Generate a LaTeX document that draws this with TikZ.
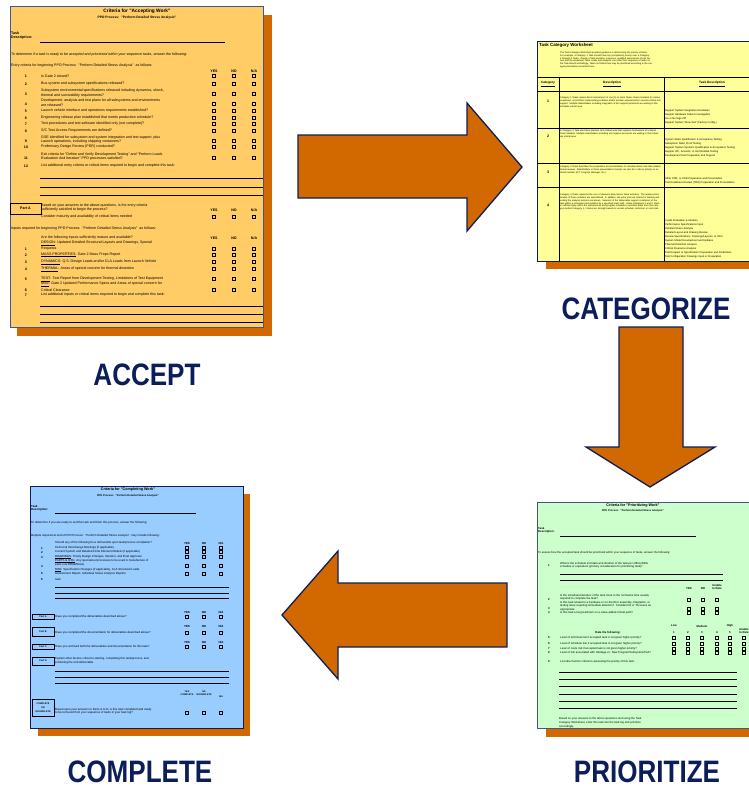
\documentclass[tikz,border=0pt]{standalone}
\usepackage{fontspec}
\setmainfont{Liberation Sans}
\usepackage{graphicx}
\usepackage{tikz}

\definecolor{navy}{RGB}{12,30,90}
\definecolor{rust}{RGB}{210,105,0}
\definecolor{pageline}{RGB}{70,85,135}
\definecolor{acceptfill}{RGB}{255,204,102}
\definecolor{catfill}{RGB}{255,255,153}
\definecolor{priofill}{RGB}{204,255,204}
\definecolor{compfill}{RGB}{153,204,255}

\begin{document}
\begin{tikzpicture}[
  x=1pt, y=-1pt,
  page/.style={draw=pageline, line width=0.9pt},
  bigarrow/.style={fill=rust, draw=navy, line width=1.3pt},
  caption/.style={text=navy, anchor=base, inner sep=0pt, font=\fontsize{31}{31}\selectfont\bfseries},
  tx/.style={anchor=west, inner sep=0pt, align=left},
  num/.style={inner sep=0pt, align=center, execute at begin node=\bfseries},
  chk/.style={draw, line width=0.6pt, minimum size=3pt, inner sep=0pt},
  rule/.style={line width=0.8pt},
  partbox/.style={draw, line width=0.7pt, inner sep=0pt, align=center, execute at begin node=\bfseries}
]
\useasboundingbox (0,0) rectangle (749,788);
\clip (0,0) rectangle (749,788);
\fill[white] (0,0) rectangle (749,788);

% accepting work sheet
\begin{scope}[font=\fontsize{3.6}{4.8}\selectfont]
\fill[rust] (17,15) rectangle (272,336);
\draw[page, fill=acceptfill] (10,6) rectangle (263,327);
\node[inner sep=0pt, font=\fontsize{4.8}{5}\selectfont\bfseries] (acctitle) at (137,11) {Criteria for "Accepting Work"};
\node[inner sep=0pt, font=\fontsize{3.3}{4}\selectfont\bfseries] (accsub) at (137,18) {PPD Process:~~"Perform Detailed Stress Analysis"};
\node[tx, execute at begin node=\bfseries] (acctask) at (11,35.5) {Task\\Description:};
\draw[rule] (40,42) -- (225,42);
\node[tx, execute at begin node=\itshape] (accintro) at (11,55) {To determine if a task is ready to be accepted and prioritized within your sequence tasks, answer the following:};
\node[tx] (accentry) at (11,66) {Entry criteria for beginning PPD Process:~~"Perform Detailed Stress Analysis"~~as follows:};
\foreach \y in {71,210,238}
  \foreach \x/\t in {214/YES,234/NO,254/{N/A}}
    \node[num] (acchd\y-\x) at (\x,\y) {\t};
\foreach \y/\t [count=\i] in {
  76/{Is Gate 2 closed?},
  84/{Bus system and subsystem specifications released?},
  93/{Subsystem environmental specifications released including dynamics, shock,\\thermal and survivability requirements?},
  102.5/{Development, analysis and test plans for all subsystems and environments\\are released?},
  111/{Launch vehicle interface and operations requirements established?},
  118/{Engineering release plan established that meets production schedule?},
  124/{Test procedures and test software identified only (not complete)?},
  131/{S/C Test Access Requirements are defined?},
  139.5/{GSE identified for subsystem and system integration and test support, plus\\Launch operations, including shipping containers?},
  147/{Preliminary Design Review (PDR) conducted?},
  156.5/{Exit criteria for "Define and Verify Development Testing" and "Perform Loads\\Evaluation And Iteration" PPD processes satisfied?},
  166/{List additional entry criteria or critical items required to begin and complete this task:}}
  \node[tx] (accitem\i) at (41,\y) {\t};
\foreach \y [count=\i] in {76,84,94,104,111,118,124,131,141,147,158,166}
  \node[num] (accno\i) at (26,\y) {\i};
\foreach \y in {76,84,94,104,111,118,124,131,141,147,158}
  \foreach \x in {214,234,254}
    \node[chk] (accbox\y-\x) at (\x,\y) {};
\foreach \y in {178,187,195,306,314,322}
  \draw[rule] (40,\y) -- (263,\y);
\node[partbox, minimum width=31pt, minimum height=11pt] (accparta) at (25.5,208.5) {Part A};
\node[tx] (accq) at (41,207.5) {Based on your answers to the above questions, is the entry criteria\\sufficiently satisfied to begin the process?};
\node[tx] (accmature) at (41,217) {Consider maturity and availability of critical items needed};
\foreach \x in {214,234,254}
  \node[chk] (accboxa\x) at (\x,217) {};
\node[tx] (accinputs) at (11,229) {Inputs required for beginning PPD Process:~~"Perform Detailed Stress Analysis"~~as follows:};
\node[tx] (accare) at (41,238) {Are the following inputs sufficiently mature and available?};
\foreach \y/\t in {
  243/{\underline{DESIGN}: Updated Detailed Structural Layouts and Drawings, Special},
  249/{Requests},
  255/{\underline{MASS PROPERTIES}: Gate 2 Mass Props Report},
  262/{\underline{DYNAMICS}: Q.S. Design Loads and/or CLA Loads from Launch Vehicle},
  269/{\underline{THERMAL}: Areas of special concern for thermal distortion},
  279/{\underline{TEST}: Test Report from Development Testing, Limitations of Test Equipment},
  284/{\underline{MSE}: Gate 2 Updated Performance Specs and Areas of special concern for},
  290/{Critical Clearance},
  295/{List additional inputs or critical items required to begin and complete this task:}}
  \node[tx] (accin\y) at (41,\y) {\t};
\foreach \y/\n in {249/1,255/2,262/3,269/4,279/5,290/6,295/7}
  \node[num] (accinno\n) at (26,\y) {\n};
\foreach \y in {249,255,262,269,279,290}
  \foreach \x in {214,234,254}
    \node[chk] (accinbox\y-\x) at (\x,\y) {};
\end{scope}

% task category worksheet
\begin{scope}[font=\fontsize{2.5}{3}\selectfont]
\fill[rust] (546,50) rectangle (760,269);
\draw[page, draw=navy, fill=catfill] (537,41) rectangle (760,261);
\node[tx, font=\fontsize{4.4}{5}\selectfont\bfseries] (cattitle) at (539,45) {Task Category Worksheet};
\node[tx, anchor=north west, text width=93pt, font=\fontsize{2.3}{2.85}\selectfont] (catintro) at (560,51.5) {The Task Category Worksheet provides guidance in determining the priority of tasks. For example, a Category 1 Task should have top (completion) priority over a Category 2 through 4 Tasks. Gravity of task duration, resources, qualified assessment of risk factors and the worksheet Team Leads and Analysts can order their sequence of tasks on the Task Board accordingly. Tasks not listed here may be prioritized according to the category description presented here.};
\draw[line width=1pt] (537,77) -- (760,77) (537,91) -- (760,91) (537,128) -- (760,128)
  (537,163) -- (760,163) (537,187) -- (760,187);
\draw[line width=1pt] (559,77) -- (559,261) (664,77) -- (664,261);
\foreach \x/\t in {548/Category,612/Description,712/{Task Description}}
  \node[num, font=\fontsize{3.2}{4}\selectfont] (cathd\x) at (\x,84) {\underline{\t}};
\foreach \y/\n in {101/1,136/2,172/3,205/4}
  \node[num, font=\fontsize{3.6}{4}\selectfont] (catno\n) at (548,\y) {\n};
\begin{scope}[every node/.style={tx, anchor=north west, text width=101pt, font=\fontsize{2.3}{2.9}\selectfont}]
\node (catdesc1) at (560,96.5) {Category 1 Tasks require direct involvement of one (1) or more Stress Team members to resolve unplanned, on-the-floor test/anomaly problems and/or provide assessments to resolve critical test support. Multiple stakeholders including integration \& test support personnel are waiting in this schedule critical area.};
\node (catdesc2) at (560,129.5) {A Category 2 Task describes planned, test-related work that requires involvement of a Stress Team Member. Multiple stakeholders including test support personnel are waiting in this schedule critical area.};
\node (catdesc3) at (560,165.5) {Category 3 Tasks describes the preparation and presentation of schedule-driven and task-related formal reviews. Stakeholders in these presentations include can also be a Stress activity as external member (IPT, Program Manager, etc.).};
\node (catdesc4) at (560,193.5) {Category 4 Tasks represent the core of planned, daily Stress Team activities. The relative prioritization of these activities are well-defined. In addition, the entry and exit criteria for starting and ending the analysis process are known. Sessions of the deliverable support completion of the task within a normative task duration by a specified team lead. Unlike Categories 1 and 2, there is sufficient play within the plan/process and program schedule to prioritize tasks from this category before Category 1, 2 tasks are strongly based on normal schedule, technical, or cost risks.};
\end{scope}
\begin{scope}[every node/.style={tx, anchor=north west, font=\fontsize{2.6}{4}\selectfont}]
\node (cattask1) at (665,109.7) {Support System Integration Anomalies\\Support Hardware Failure Investigation\\Go or No Sign-Off\\Support System `Slow Test' (Factory Config.)};
\node (cattask2) at (665,138.7) {System Static Qualification \& Acceptance Testing\\Subsystem Static Proof Testing\\Support System Systems Qualification \& Acceptance Testing\\Support IPC, Acoustic, or Unit Related Testing\\Development Test Preparation and Support};
\node (cattask3) at (665,177.7) {SRR, PDR, or CDR Preparation and Presentation\\Test Readiness Review (TRR) Preparation and Presentation};
\node (cattask4) at (665,219.7) {Loads Evaluation \& Iteration\\Performance Specifications Input\\Detailed Stress Analysis\\Detailed Layout and Drawing Review\\Review Specifications, Drawings/Layouts, or ICDs\\System Model Development and Updates\\Thermal Distortion Analysis\\Critical Clearance Analysis\\Test Request or Specification Preparation and Predictions\\Test Configuration Drawings Input or Preparation};
\end{scope}
\end{scope}

% prioritizing work sheet
\begin{scope}[font=\fontsize{2.8}{3.3}\selectfont, chk/.append style={minimum size=2.6pt, line width=0.5pt}]
\fill[rust] (546,511) rectangle (760,737);
\draw[page, fill=priofill] (537,502) rectangle (760,728);
\node[inner sep=0pt, font=\fontsize{3.7}{4}\selectfont\bfseries] (priotitle) at (633,506) {Criteria for "Prioritizing Work"};
\node[inner sep=0pt, font=\fontsize{2.6}{3}\selectfont\bfseries] (priosub) at (633,510.5) {PPD Process:~~"Perform Detailed Stress Analysis"};
\node[tx, execute at begin node=\bfseries] (priotask) at (538,530.5) {Task\\Description:};
\draw[rule] (560,536) -- (696,536);
\node[tx] (priointro) at (538,553) {To assess how the accepted task should be prioritized within your sequence of tasks, answer the following:};
\node[tx] (prioq1) at (560,565.5) {What is the schedule end date and duration of the task per official EEG\\schedule or equivalent (primary consideration for prioritizing task)?};
\draw[rule] (560,574) -- (723,574) (560,580) -- (723,580);
\node[num] (priohdyes) at (689,589) {YES};
\node[num] (priohdno) at (703,589) {NO};
\node[num] (priohdun) at (717,587) {Unable\\to Rate};
\node[tx] (prioq2) at (560,597.5) {Is the scheduled duration of the task close to the normative time usually\\required to complete the task?};
\node[tx] (prioq3) at (560,606) {Is this task related to a hardware or on-the-floor assembly, integration, or\\testing issue requiring immediate attention?~~Consider PA or TA issues as\\appropriate.};
\node[tx] (prioq4) at (560,613) {Is this task a long lead item on a value-added critical path?};
\foreach \y/\n in {566/1,600/2,609/3,613/4,662/9}
  \node[num] (priono\n) at (549,\y) {\n};
\foreach \y in {600,609,613}
  \foreach \x in {689,703,717}
    \node[chk] (priobox\y-\x) at (\x,\y) {};
\node[num] (priolow) at (674,626) {Low};
\node[num] (priomed) at (702,626) {Medium};
\node[num] (priohigh) at (730,626) {High};
\node[num] (priounable) at (744,631) {Unable\\to Rate};
\node[num] (priorate) at (608,633) {Rate the following:};
\foreach \x [count=\i] in {674,688,702,717,730}
  \node[num] (priolevel\i) at (\x,633) {\i};
\foreach \y/\n/\t in {
  638/5/{Level of technical risk if accepted task is not given higher priority?},
  644/6/{Level of schedule risk if accepted task is not given higher priority?},
  649/7/{Level of costs risk if accepted task is not given higher priority?},
  653/8/{Level of risk associated with Heritage vs. New Program/Subsystem/Part?}} {
  \node[num] (priono\n) at (549,\y) {\n};
  \node[tx] (prioq\n) at (560,\y) {\t};
  \foreach \x in {674,688,702,717,730,744}
    \node[chk] (priobox\n-\x) at (\x,\y) {};
}
\node[tx] (prioq9) at (560,662) {List other factors critical to assessing the priority of this task:};
\foreach \y in {672,679,686,694,701,708}
  \draw[rule] (559,\y) -- (737,\y);
\node[tx, font=\fontsize{2.8}{3.8}\selectfont] (prioend) at (559,723) {Based on your answers to the above questions and using the Task\\Category Worksheet, enter this task into the task log and prioritize\\accordingly.};
\end{scope}

% completing work sheet
\begin{scope}[font=\fontsize{2.9}{3.5}\selectfont, chk/.append style={minimum size=2.8pt, line width=0.55pt}]
\fill[rust] (38,494) rectangle (250,736);
\draw[page, draw=navy, fill=compfill] (30,486) rectangle (243,728);
\node[inner sep=0pt, font=\fontsize{3.7}{4}\selectfont\bfseries] (comptitle) at (128,489.5) {Criteria for "Completing Work"};
\node[inner sep=0pt, font=\fontsize{2.6}{3}\selectfont\bfseries] (compsub) at (128,496) {PPD Process:~~"Perform Detailed Stress Analysis"};
\node[tx, execute at begin node=\bfseries] (comptask) at (31,508) {Task\\Description:};
\draw[rule] (55,513) -- (196,513);
\node[tx] (compintro) at (31,523) {To determine if you are ready to end this task and finish this process, answer the following:};
\node[tx] (compout) at (31,536) {Outputs required at end of PPD Process:~~"Perform Detailed Stress Analysis"~~may include following:};
\node[tx] (compshould) at (55,543) {Should any of the following be a deliverable upon task/process completion?};
\foreach \y in {543,612,626,642}
  \foreach \x/\t in {187/YES,204/NO,221/{N/A}}
    \node[num] (comphd\y-\x) at (\x,\y) {\t};
\foreach \y/\t [count=\i] in {
  548/{Technical Interchange Meetings (if applicable)},
  552/{Current System and Detailed Finite Element Models (if applicable)},
  557/{\underline{DRAWINGS}: Timely Design Changes, Iteration, and Final Approval},
  561/{\underline{PARTS \& ICDs}: Any specialized processes to be used in manufacture of},
  565/{parts (via DRAWINGs)},
  570/{\underline{MSE}: Specification Changes (if applicable), CLA Structural Loads},
  574/{Assessment Report, Individual Stress Analysis Reports},
  579/{task:}}
  \node[tx] (compitem\i) at (55,\y) {\t};
\foreach \y [count=\i] in {548,552,557,566,574,579}
  \node[num] (compno\i) at (42,\y) {\i};
\foreach \y in {548,552,557,566,574,617,633,647,713}
  \foreach \x in {187,204,221}
    \node[chk] (compbox\y-\x) at (\x,\y) {};
\foreach \y in {587,593,598,671,677,683}
  \draw[rule] (55,\y) -- (229,\y);
\foreach \y/\h/\p in {616.5/5/A,631.5/9/B,646.5/5/C,661/8/D}
  \node[partbox, minimum width=22pt, minimum height=\h pt, font=\fontsize{2.4}{3}\selectfont] (comppart\p) at (43,\y) {Part \p};
\node[tx] (compqa) at (55,617) {Have you completed the deliverables described above?};
\node[tx] (compqb) at (55,633) {Have you completed the documentation for deliverables described above?};
\node[tx] (compqc) at (55,647) {Have you archived both the deliverables and documentation for this task?};
\node[tx] (compqd) at (55,660.5) {Explain other factors critical to starting, completing this task/process, and\\producing the end deliverable.};
\node[num, font=\fontsize{2.3}{3}\selectfont] (comphdyes) at (187,693.5) {YES\\COMPLETE};
\node[num, font=\fontsize{2.3}{3}\selectfont] (comphdno) at (204,693.5) {NO\\INCOMPLETE};
\node[num, font=\fontsize{2.3}{3}\selectfont] (comphdna) at (221,697) {N/A};
\node[partbox, minimum width=22pt, minimum height=17pt, font=\fontsize{2.3}{4}\selectfont] (compfinal) at (43,707.5) {COMPLETE\\OR\\INCOMPLETE};
\node[tx] (compqe) at (55,711) {Based upon your answers to Parts A to D, is this task completed and ready\\to be removed from your sequence of tasks in your task log?};
\end{scope}

% block arrows between the sheets
\draw[bigarrow] (298,135) -- (467,135) -- (467,103) -- (522,167) -- (467,231) -- (467,198) -- (298,198) -- cycle;
\draw[bigarrow] (619,327) -- (683,327) -- (683,447) -- (715,447) -- (650,487) -- (586,447) -- (619,447) -- cycle;
\draw[bigarrow] (282,615) -- (338,551) -- (338,583) -- (507,583) -- (507,647) -- (338,647) -- (338,679) -- cycle;

% step captions
\node[caption] (accept) at (147,385) {\scalebox{0.84}[1]{ACCEPT}};
\node[caption] (categorize) at (646,319) {\scalebox{0.84}[1]{CATEGORIZE}};
\node[caption] (prioritize) at (647,782) {\scalebox{0.84}[1]{PRIORITIZE}};
\node[caption] (complete) at (140,782) {\scalebox{0.84}[1]{COMPLETE}};
\end{tikzpicture}
\end{document}
